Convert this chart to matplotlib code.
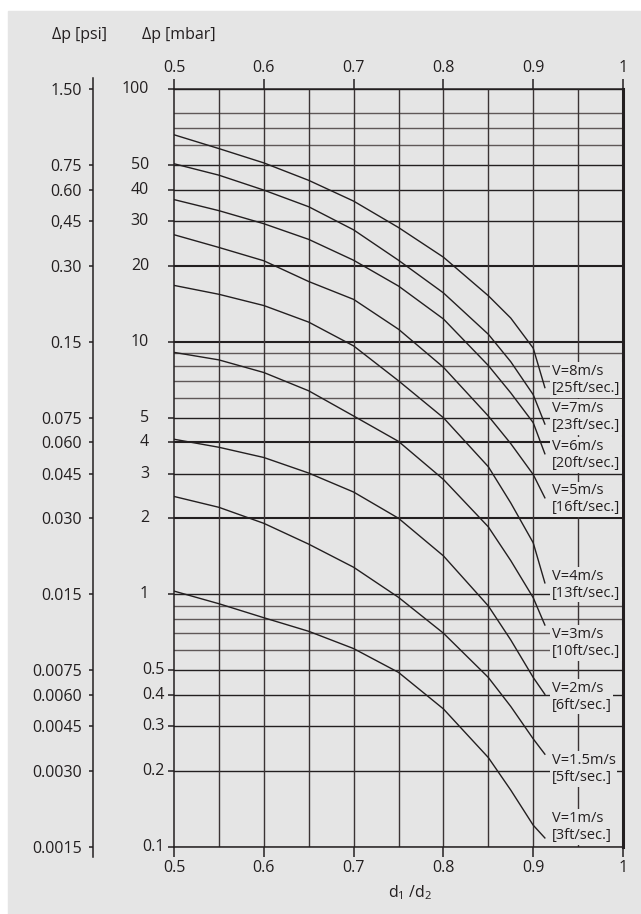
import matplotlib
matplotlib.use('Agg')
import matplotlib.pyplot as plt
from matplotlib import transforms
from matplotlib.patches import Rectangle
from matplotlib.ticker import FixedLocator, NullLocator

plt.rcParams['font.family'] = ['Open Sans', 'DejaVu Sans']
plt.rcParams['mathtext.fontset'] = 'custom'
plt.rcParams['mathtext.rm'] = 'Open Sans'
plt.rcParams['mathtext.it'] = 'Open Sans'

# d1/d2 ratio sample points
ratio_a = [0.5, 0.55, 0.6, 0.65, 0.7, 0.75, 0.8, 0.85, 0.875, 0.9, 0.913]
ratio_b = [0.5, 0.55, 0.6, 0.65, 0.7, 0.75, 0.8, 0.85, 0.875, 0.9, 0.913]

# pressure drop in mbar for each velocity
dp_8 = [65.9, 58.1, 51.0, 43.5, 36.0, 28.3, 21.6, 15.2, 12.4, 9.43, 6.58]
dp_7 = [50.6, 45.6, 39.8, 34.2, 27.7, 21.0, 15.6, 10.7, 8.33, 6.17, 4.72]
dp_6 = [36.5, 33.0, 29.3, 25.4, 21.0, 16.6, 12.3, 8.05, 6.27, 4.78, 3.60]
dp_5 = [26.5, 23.6, 20.9, 17.3, 14.7, 11.2, 7.92, 5.08, 3.95, 2.98, 2.41]
dp_4 = [16.7, 15.4, 13.9, 11.95, 9.62, 7.0, 5.0, 3.2, 2.3, 1.6, 1.11]
dp_3 = [9.07, 8.47, 7.55, 6.39, 5.08, 4.03, 2.85, 1.85, 1.36, 0.97, 0.756]
dp_2 = [4.11, 3.82, 3.48, 3.02, 2.54, 2.0, 1.42, 0.9, 0.66, 0.469, 0.402]
dp_15 = [2.44, 2.21, 1.91, 1.58, 1.28, 0.973, 0.702, 0.469, 0.36, 0.268, 0.233]
dp_1 = [1.03, 0.918, 0.808, 0.714, 0.610, 0.491, 0.352, 0.226, 0.168, 0.122, 0.1086]

curve_labels = ['V=8m/s\n[25ft/sec.]', 'V=7m/s\n[23ft/sec.]', 'V=6m/s\n[20ft/sec.]',
                'V=5m/s\n[16ft/sec.]', 'V=4m/s\n[13ft/sec.]', 'V=3m/s\n[10ft/sec.]',
                'V=2m/s\n[6ft/sec.]', 'V=1.5m/s\n[5ft/sec.]', 'V=1m/s\n[3ft/sec.]']

mbar_ticks = [100, 50, 40, 30, 20, 10, 5, 4, 3, 2, 1, 0.5, 0.4, 0.3, 0.2, 0.1]
mbar_labels = ['100', '50', '40', '30', '20', '10', '5', '4', '3', '2', '1',
               '0.5', '0.4', '0.3', '0.2', '0.1']
psi_labels = ['1.50', '0.75', '0.60', '0,45', '0.30', '0.15', '0.075', '0.060', '0.045',
              '0.030', '0.015', '0.0075', '0.0060', '0.0045', '0.0030', '0.0015']
minor_lines = [80, 70, 60, 9, 8, 7, 6, 0.9, 0.8, 0.7, 0.6]
x_ticks = [0.5, 0.6, 0.7, 0.8, 0.9, 1.0]
x_labels = ['0.5', '0.6', '0.7', '0.8', '0.9', '1']
x_grid = [0.55, 0.6, 0.65, 0.7, 0.75, 0.8, 0.85, 0.9, 0.95]

bg = '#e5e5e5'
ink = '#231f20'
W, H = 641, 914
fs = 11.5

fig = plt.figure(figsize=(W / 100, H / 100), dpi=100)
fig.patches.append(Rectangle((8 / W, 0), 1, (H - 11) / H, transform=fig.transFigure,
                             color=bg, zorder=-10))

ax = fig.add_axes([174 / W, 67 / H, 449 / W, 758 / H])
ax.set_facecolor('none')
ax.set_yscale('log')
ax.set_xlim(0.5, 1)
ax.set_ylim(0.1, 100)

# grid
for v in mbar_ticks:
    lw = 1.5 if v in (20, 10, 4, 2) else 1.0
    ax.axhline(v, color=ink, lw=lw, zorder=1)
for v in minor_lines:
    ax.axhline(v, color='#5f5858', lw=1.0, zorder=1)
for v in x_grid:
    ax.axvline(v, color='#3a3334', lw=1.0, zorder=1)

# curves
series = [(ratio_a, dp_8), (ratio_a, dp_7), (ratio_b, dp_6), (ratio_b, dp_5), (ratio_b, dp_4),
          (ratio_b, dp_3), (ratio_b, dp_2), (ratio_b, dp_15), (ratio_b, dp_1)]
for xs, ys in series:
    ax.plot(xs, ys, color=ink, lw=1.0, zorder=3)

# curve labels
label_y = [7.05, 5.03, 3.56, 2.38, 1.09, 0.642, 0.3935, 0.2036, 0.12]
for lab, yv in zip(curve_labels, label_y):
    ax.text(0.9206, yv, lab, ha='left', va='center', fontsize=10.5, color=ink,
            linespacing=1.15, zorder=4,
            bbox=dict(boxstyle='square,pad=0.12', fc=bg, ec='none'))

for side in ['left', 'top', 'bottom']:
    ax.spines[side].set_color(ink)
    ax.spines[side].set_linewidth(1.1)
ax.spines['right'].set_color(ink)
ax.spines['right'].set_linewidth(2.2)

ax.set_xticks(x_ticks)
ax.set_xticklabels(x_labels)
ax.tick_params(axis='x', top=True, labeltop=True, bottom=True, labelbottom=True,
               direction='out', length=7.5, width=1.1, color=ink, labelcolor=ink,
               labelsize=fs, pad=1.5)
ax.yaxis.set_major_locator(FixedLocator(mbar_ticks))
ax.yaxis.set_minor_locator(NullLocator())
ax.set_yticklabels([])
ax.tick_params(axis='y', direction='out', length=4.3, width=1.1, color=ink)

trans = transforms.blended_transform_factory(fig.transFigure, ax.transData)
for v, lab in zip(mbar_ticks, mbar_labels):
    if '.' in lab:
        fig.text(142 / W, v, lab, transform=trans, ha='left', va='center',
                 fontsize=fs, color=ink)
    else:
        fig.text(149 / W, v, lab, transform=trans, ha='right', va='center',
                 fontsize=fs, color=ink)

# psi axis
axp = fig.add_axes([93 / W, 57 / H, 0.002, 779 / H])
axp.set_facecolor('none')
axp.set_yscale('log')
axp.set_ylim(0.1 * 10 ** (-10 / 252.67), 100 * 10 ** (11 / 252.67))
axp.yaxis.set_major_locator(FixedLocator(mbar_ticks))
axp.yaxis.set_minor_locator(NullLocator())
axp.set_yticklabels(psi_labels)
axp.set_xticks([])
for side in ['right', 'top', 'bottom']:
    axp.spines[side].set_visible(False)
axp.spines['left'].set_color(ink)
axp.spines['left'].set_linewidth(1.1)
axp.tick_params(axis='y', direction='out', length=3, width=1.1, color=ink,
                labelcolor=ink, labelsize=fs, pad=5)

fig.text(52 / W, 1 - 35 / H, 'Δp [psi]', ha='left', va='center', fontsize=fs, color=ink)
fig.text(142 / W, 1 - 35 / H, 'Δp [mbar]', ha='left', va='center', fontsize=fs, color=ink)
fig.text(410 / W, 1 - 893 / H, 'd$_1$ /d$_2$', ha='center', va='center', fontsize=fs, color=ink)

fig.savefig('out.png', dpi=100)
